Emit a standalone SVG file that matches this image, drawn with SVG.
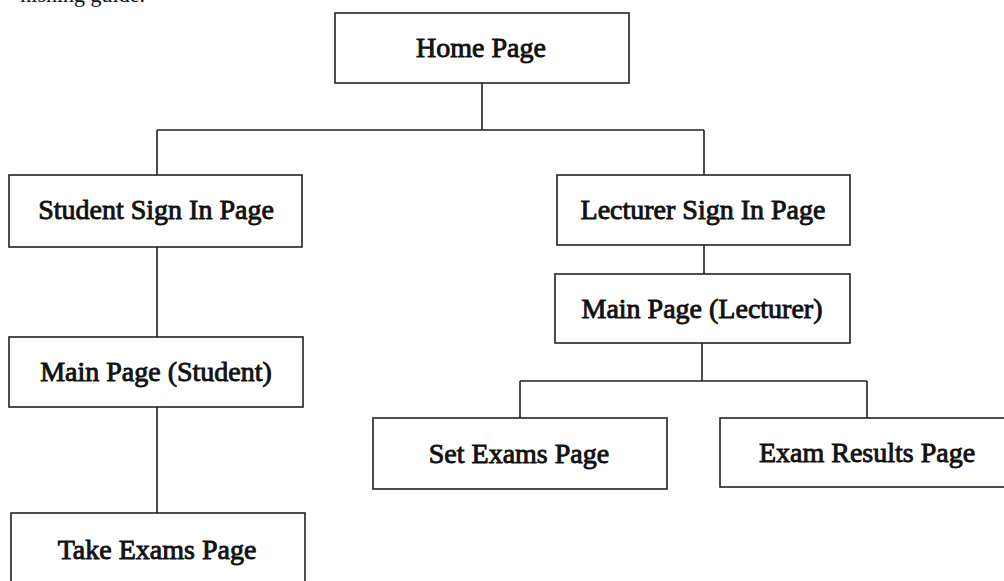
<svg xmlns="http://www.w3.org/2000/svg" width="1004" height="581" viewBox="0 0 1004 581">
<style>
.box{fill:#fff;stroke:#222;stroke-width:1.6}
.lbl{font-family:"Liberation Serif","Times New Roman",serif;font-size:28px;fill:#111;stroke:#111;stroke-width:0.9;text-anchor:middle}
.con{stroke:#222;stroke-width:1.6;fill:none}
.frag{font-family:"Liberation Serif","Times New Roman",serif;font-size:22px;fill:#111;text-anchor:end}
</style>
<rect width="1004" height="581" fill="#fff"/>
<text class="frag" x="145" y="2">nishing guide.</text>
<g id="connectors">
<path class="con" d="M482 83V130M157 130H704M157 130V175M704 130V175M157 247V337M157 407V513M704 245V274M702 343V381M520 381H867M520 381V418M867 381V418"/>
</g>
<g id="home"><rect class="box" x="335" y="13" width="294" height="70"/><text class="lbl" x="481" y="57">Home Page</text></g>
<g id="student-signin"><rect class="box" x="9" y="175" width="293" height="72"/><text class="lbl" x="156" y="219">Student Sign In Page</text></g>
<g id="lecturer-signin"><rect class="box" x="557" y="175" width="293" height="70"/><text class="lbl" x="703" y="219">Lecturer Sign In Page</text></g>
<g id="main-lecturer"><rect class="box" x="555" y="274" width="295" height="69"/><text class="lbl" x="702" y="318">Main Page (Lecturer)</text></g>
<g id="main-student"><rect class="box" x="9" y="337" width="294" height="70"/><text class="lbl" x="156" y="381">Main Page (Student)</text></g>
<g id="take-exams"><rect class="box" x="11" y="513" width="294" height="90"/><text class="lbl" x="157" y="559">Take Exams Page</text></g>
<g id="set-exams"><rect class="box" x="373" y="418" width="294" height="71"/><text class="lbl" x="519" y="463">Set Exams Page</text></g>
<g id="exam-results"><rect class="box" x="720" y="418" width="300" height="69"/><text class="lbl" x="867" y="462">Exam Results Page</text></g>
</svg>
